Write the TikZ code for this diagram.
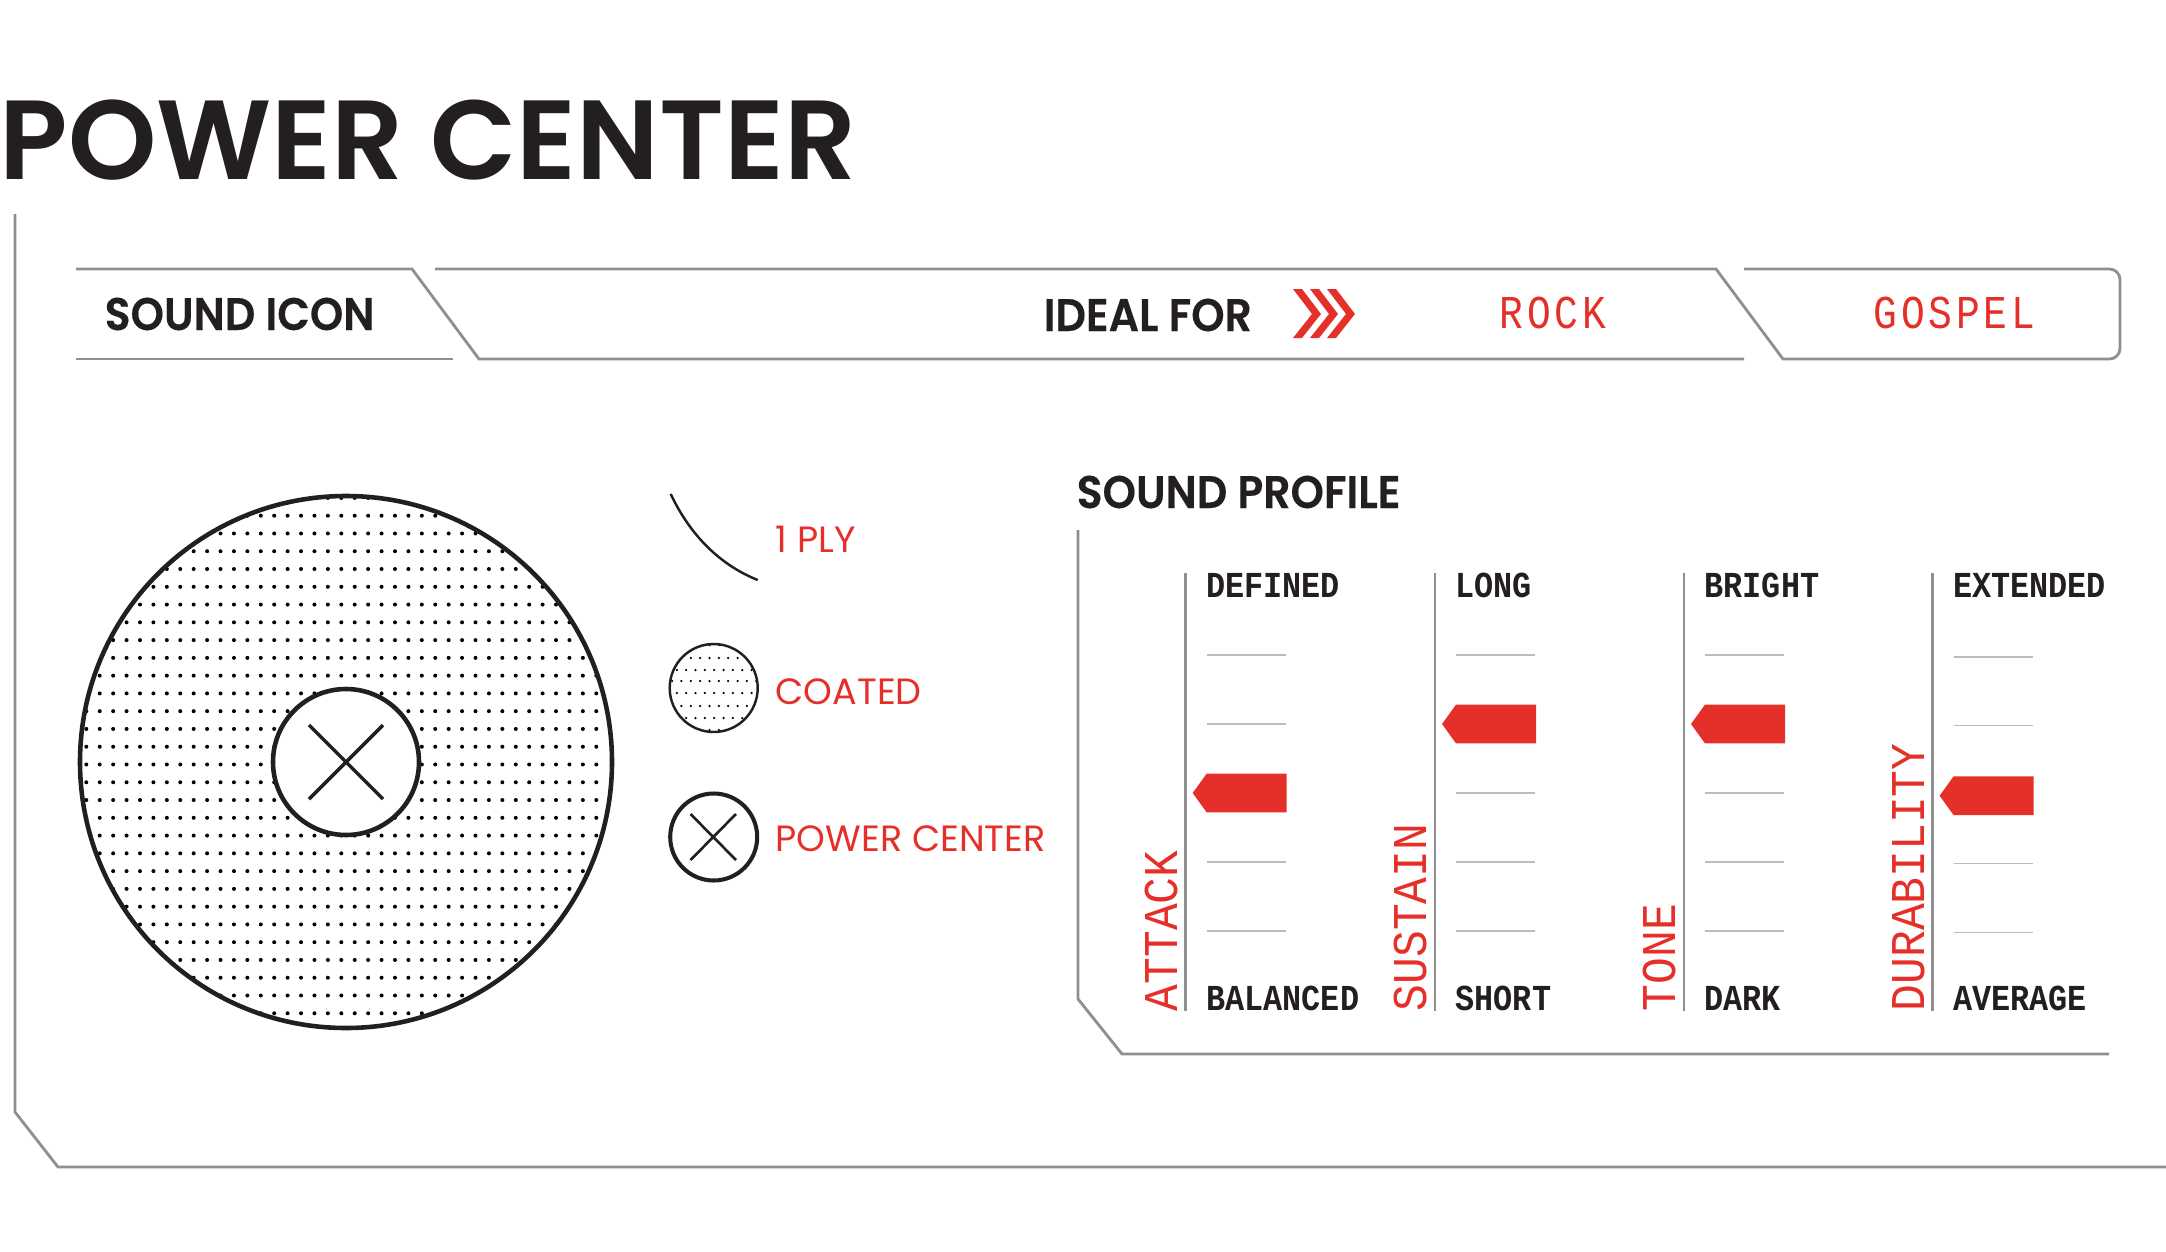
\documentclass[tikz,border=0pt]{standalone}
\usepackage{fontspec}
\setmainfont{Poppins}
\newfontfamily\headfont{Poppins SemiBold}
\newfontfamily\subheadfont[FakeStretch=.93,FakeBold=.25]{Poppins SemiBold}
\newfontfamily\monolabel[FakeStretch=.92]{Liberation Mono}
\newfontfamily\monotab[FakeStretch=.84,LetterSpace=8]{Liberation Mono}
\newfontfamily\monoend[FakeStretch=.87]{Liberation Mono Bold}
\definecolor{inkblack}{HTML}{231F20}
\definecolor{inkred}{HTML}{E5302A}
\definecolor{framegray}{HTML}{8F8F8F}
\definecolor{tickgray}{HTML}{BDBDBD}
\tikzset{
  frameline/.style={draw=framegray,line width=.8pt},
  inkline/.style={draw=inkblack,line width=1.3pt},
  txt/.style={inner sep=0pt,anchor=base west},
  heading/.style={txt,text=inkblack,font=\subheadfont\fontsize{13}{15}\selectfont},
  legendtxt/.style={txt,text=inkred,font=\fontsize{10.4}{12}\selectfont},
  tabtxt/.style={txt,text=inkred,font=\monotab\fontsize{13.4}{15}\selectfont},
  endtxt/.style={txt,text=inkblack,font=\monoend\fontsize{10.4}{12}\selectfont},
  sidetxt/.style={txt,rotate=90,text=inkred,font=\monolabel\fontsize{13.8}{15}\selectfont}
}
\begin{document}
\begin{tikzpicture}[x=.01cm,y=-.01cm]
\useasboundingbox (0,0) rectangle (2166,1251);
\node[txt,text=inkblack,font=\headfont\fontsize{32}{36}\selectfont] (title) at (-1,179) {POWER CENTER};
\draw[frameline] (15,214) -- (15,1112) -- (58,1167) -- (2166,1167);
\draw[frameline] (76,269) -- (412,269) -- (479,359) -- (1744,359);
\draw[frameline] (76,359) -- (453,359);
\draw[frameline] (435,269) -- (1716,269) -- (1783,359) -- (2100,359) [rounded corners=3] -- (2120,359) -- (2120,269) -- (1744,269);
\node[heading] (soundicon) at (104,330) {SOUND ICON};
\node[heading] (idealfor) at (1043,331) {IDEAL FOR};
\foreach \i in {0,1,2}
  \fill[inkred] (1293+17*\i,289) -- ++(9,0) -- ++(19,25) -- ++(-19,24) -- ++(-9,0) -- ++(19,-24) -- cycle;
\node[tabtxt] (rock) at (1499,328.5) {ROCK};
\node[tabtxt] (gospel) at (1873,328.5) {GOSPEL};
\begin{scope}
\clip (346,762) circle[radius=266];
\foreach \y in {-1,...,28}
  \foreach \x in {-20,...,19}
    \fill[black] ({341.3+13.42*\x},{515.7+17.77*\y}) circle[radius=2];
\end{scope}
\draw[inkline] (346,762) circle[radius=266];
\draw[inkline,fill=white] (346,762) circle[radius=73];
\draw[draw=inkblack,line width=1pt] (309,725) -- (383,799) (309,799) -- (383,725);
\draw[draw=inkblack,line width=.7pt] (670.7,494) .. controls (690,535) and (720,565) .. (757.7,580);
\node[legendtxt] (oneply) at (775,552.7) {1 PLY};
\begin{scope}
\clip (713.7,688) circle[radius=44];
\foreach \y/\off in {645/0,658/0,670/4.7,681/0,693/4.7,706/0,718/4.7,730/0}
  \foreach \x in {-6,...,6}
    \fill[black] ({713.7-4.2+\off+9.35*\x},\y) circle[radius=1.25];
\end{scope}
\draw[draw=inkblack,line width=.7pt] (713.7,688) circle[radius=44];
\node[legendtxt] (coated) at (775,704) {COATED};
\draw[draw=inkblack,line width=1.15pt] (713.7,837) circle[radius=43.5];
\draw[draw=inkblack,line width=.75pt] (690.5,814) -- (736,860) (690.5,860) -- (736,814);
\node[legendtxt] (powercenter) at (775,851.7) {POWER CENTER};
\node[heading] (soundprofile) at (1076,508) {SOUND PROFILE};
\draw[frameline] (1078,530) -- (1078,999) -- (1122,1054) -- (2109,1054);
\foreach \cx/\nm/\hi/\lo/\py/\dy in {
  1185.7/ATTACK/DEFINED/BALANCED/793/0,
  1435/SUSTAIN/LONG/SHORT/724/0,
  1684/TONE/BRIGHT/DARK/724/0,
  1932.6/DURABILITY/EXTENDED/AVERAGE/795.7/1.5}{
  \draw[frameline] (\cx,573) -- (\cx,1011);
  \foreach \ty in {655.2,724.1,793,861.9,930.8}
    \draw[draw=tickgray,line width=.45pt] (\cx+21,\ty+\dy) -- (\cx+100,\ty+\dy);
  \fill[inkred] (\cx+7,\py) -- (\cx+21,\py-19.4) -- (\cx+101,\py-19.4) -- (\cx+101,\py+19.4) -- (\cx+21,\py+19.4) -- cycle;
  \node[sidetxt] (side\nm) at (\cx-8.5,1012) {\nm};
  \node[endtxt] (hi\nm) at (\cx+20,597) {\hi};
  \node[endtxt] (lo\nm) at (\cx+20,1010) {\lo};
}
\end{tikzpicture}
\end{document}
